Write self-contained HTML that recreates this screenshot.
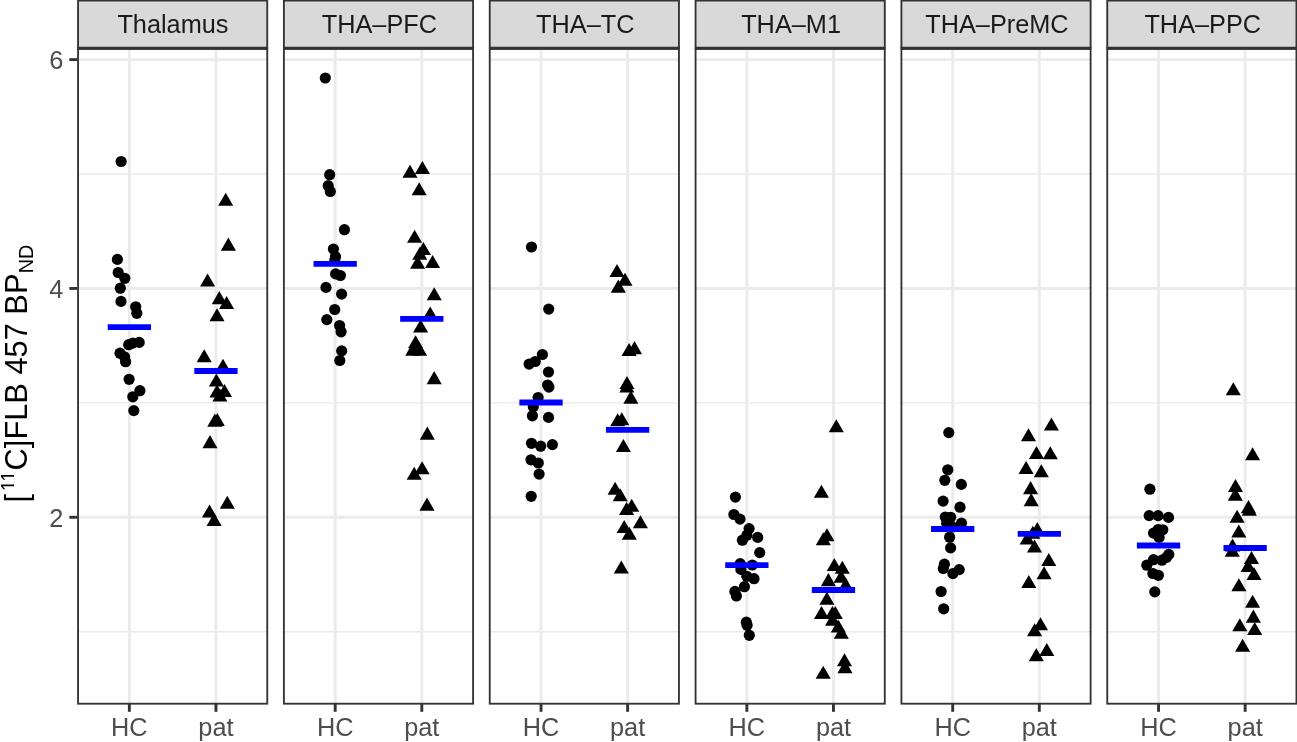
<!DOCTYPE html>
<html lang="en"><head><meta charset="utf-8"><title>[11C]FLB 457 BPND</title>
<style>
html,body{margin:0;padding:0;background:#fff;}
body{width:1297px;height:742px;overflow:hidden;}
svg{display:block;will-change:transform;}
text{font-family:"Liberation Sans",Arial,Helvetica,sans-serif;}
.st{font-size:25.3px;fill:#1a1a1a;text-anchor:middle;}
.ax{font-size:25.3px;fill:#4d4d4d;}
.yt{font-size:30.8px;fill:#000;}
</style></head><body>
<svg width="1297" height="742" viewBox="0 0 1297 742">
<rect width="1297" height="742" fill="#fff"/>
<text class="ax" x="63.3" y="526.68" text-anchor="end">2</text>
<line x1="69.3" x2="78.0" y1="517.28" y2="517.28" stroke="#333" stroke-width="2.9"/>
<text class="ax" x="63.3" y="297.84" text-anchor="end">4</text>
<line x1="69.3" x2="78.0" y1="288.44" y2="288.44" stroke="#333" stroke-width="2.9"/>
<text class="ax" x="63.3" y="69.00" text-anchor="end">6</text>
<line x1="69.3" x2="78.0" y1="59.60" y2="59.60" stroke="#333" stroke-width="2.9"/>
<g transform="translate(26.9,502.5) rotate(-90)">
<clipPath id="c11"><rect x="0" y="-40" width="40" height="27.15"/></clipPath>
<text class="yt" x="0" y="0">[</text>
<g clip-path="url(#c11)"><text class="yt" x="0" y="0" transform="translate(11.14,-12.7) scale(1,1.105) translate(0,1.45)" style="font-size:19.8px">11</text></g>
<text class="yt" x="32.1" y="0">C]FLB 457 BP<tspan style="font-size:19.8px" dx="0.2" dy="6.1">ND</tspan></text>
</g>
<g>
<rect x="77.40" y="-2" width="190.50" height="50.25" fill="#d9d9d9"/>
<path d="M78.05 48.25V0.5H267.25V48.25" fill="none" stroke="#333" stroke-width="1.85"/>
<text class="st" x="172.95" y="33.4">Thalamus</text>
<rect x="77.40" y="48.25" width="190.50" height="656.15" fill="#fff"/>
<line x1="77.40" x2="267.90" y1="631.70" y2="631.70" stroke="#ebebeb" stroke-width="1.45"/>
<line x1="77.40" x2="267.90" y1="402.86" y2="402.86" stroke="#ebebeb" stroke-width="1.45"/>
<line x1="77.40" x2="267.90" y1="174.02" y2="174.02" stroke="#ebebeb" stroke-width="1.45"/>
<line x1="77.40" x2="267.90" y1="517.28" y2="517.28" stroke="#ebebeb" stroke-width="2.9"/>
<line x1="77.40" x2="267.90" y1="288.44" y2="288.44" stroke="#ebebeb" stroke-width="2.9"/>
<line x1="77.40" x2="267.90" y1="59.60" y2="59.60" stroke="#ebebeb" stroke-width="2.9"/>
<line x1="129.35" x2="129.35" y1="48.25" y2="704.40" stroke="#ebebeb" stroke-width="2.9"/>
<line x1="215.95" x2="215.95" y1="48.25" y2="704.40" stroke="#ebebeb" stroke-width="2.9"/>
<circle cx="121.1" cy="161.5" r="5.6"/>
<circle cx="117.4" cy="259.4" r="5.6"/>
<circle cx="118.2" cy="272.5" r="5.6"/>
<circle cx="124.8" cy="278.3" r="5.6"/>
<circle cx="120.3" cy="288.2" r="5.6"/>
<circle cx="121.0" cy="301.4" r="5.6"/>
<circle cx="135.7" cy="306.8" r="5.6"/>
<circle cx="136.8" cy="313.3" r="5.6"/>
<circle cx="139.2" cy="342.4" r="5.6"/>
<circle cx="132.8" cy="343.1" r="5.6"/>
<circle cx="128.7" cy="344.7" r="5.6"/>
<circle cx="120.0" cy="353.2" r="5.6"/>
<circle cx="124.6" cy="356.9" r="5.6"/>
<circle cx="125.6" cy="361.7" r="5.6"/>
<circle cx="129.1" cy="379.3" r="5.6"/>
<circle cx="139.9" cy="390.7" r="5.6"/>
<circle cx="132.8" cy="396.8" r="5.6"/>
<circle cx="133.8" cy="410.6" r="5.6"/>
<path d="M225.7 192.8l7.55 13.05h-15.1z"/>
<path d="M228.4 237.6l7.55 13.05h-15.1z"/>
<path d="M207.6 273.5l7.55 13.05h-15.1z"/>
<path d="M219.3 291.1l7.55 13.05h-15.1z"/>
<path d="M226.6 295.9l7.55 13.05h-15.1z"/>
<path d="M217.0 308.3l7.55 13.05h-15.1z"/>
<path d="M204.2 349.2l7.55 13.05h-15.1z"/>
<path d="M223.0 358.8l7.55 13.05h-15.1z"/>
<path d="M216.4 373.5l7.55 13.05h-15.1z"/>
<path d="M224.5 384.0l7.55 13.05h-15.1z"/>
<path d="M217.0 384.5l7.55 13.05h-15.1z"/>
<path d="M219.9 388.5l7.55 13.05h-15.1z"/>
<path d="M214.8 413.6l7.55 13.05h-15.1z"/>
<path d="M217.3 413.0l7.55 13.05h-15.1z"/>
<path d="M210.0 435.1l7.55 13.05h-15.1z"/>
<path d="M227.3 495.8l7.55 13.05h-15.1z"/>
<path d="M209.5 504.5l7.55 13.05h-15.1z"/>
<path d="M214.1 513.0l7.55 13.05h-15.1z"/>
<line x1="107.70" x2="151.00" y1="327.10" y2="327.10" stroke="#0000ff" stroke-width="5.8"/>
<line x1="194.30" x2="237.60" y1="371.00" y2="371.00" stroke="#0000ff" stroke-width="5.8"/>
<rect x="78.05" y="48.75" width="189.20" height="654.95" fill="none" stroke="#333" stroke-width="1.85"/>
<line x1="77.40" x2="267.90" y1="48.25" y2="48.25" stroke="#333" stroke-width="2.9"/>
<line x1="129.35" x2="129.35" y1="703.60" y2="711.80" stroke="#333" stroke-width="2.9"/>
<text class="ax" x="129.35" y="735.8" text-anchor="middle">HC</text>
<line x1="215.95" x2="215.95" y1="703.60" y2="711.80" stroke="#333" stroke-width="2.9"/>
<text class="ax" x="215.95" y="735.8" text-anchor="middle">pat</text>
</g>
<g>
<rect x="283.24" y="-2" width="190.50" height="50.25" fill="#d9d9d9"/>
<path d="M283.89 48.25V0.5H473.09V48.25" fill="none" stroke="#333" stroke-width="1.85"/>
<text class="st" x="379.39" y="33.4">THA–PFC</text>
<rect x="283.24" y="48.25" width="190.50" height="656.15" fill="#fff"/>
<line x1="283.24" x2="473.74" y1="631.70" y2="631.70" stroke="#ebebeb" stroke-width="1.45"/>
<line x1="283.24" x2="473.74" y1="402.86" y2="402.86" stroke="#ebebeb" stroke-width="1.45"/>
<line x1="283.24" x2="473.74" y1="174.02" y2="174.02" stroke="#ebebeb" stroke-width="1.45"/>
<line x1="283.24" x2="473.74" y1="517.28" y2="517.28" stroke="#ebebeb" stroke-width="2.9"/>
<line x1="283.24" x2="473.74" y1="288.44" y2="288.44" stroke="#ebebeb" stroke-width="2.9"/>
<line x1="283.24" x2="473.74" y1="59.60" y2="59.60" stroke="#ebebeb" stroke-width="2.9"/>
<line x1="335.19" x2="335.19" y1="48.25" y2="704.40" stroke="#ebebeb" stroke-width="2.9"/>
<line x1="421.79" x2="421.79" y1="48.25" y2="704.40" stroke="#ebebeb" stroke-width="2.9"/>
<circle cx="325.3" cy="78.0" r="5.6"/>
<circle cx="329.7" cy="174.7" r="5.6"/>
<circle cx="328.2" cy="185.7" r="5.6"/>
<circle cx="330.3" cy="191.5" r="5.6"/>
<circle cx="344.4" cy="229.7" r="5.6"/>
<circle cx="333.4" cy="249.0" r="5.6"/>
<circle cx="335.5" cy="256.6" r="5.6"/>
<circle cx="334.8" cy="260.1" r="5.6"/>
<circle cx="335.6" cy="273.9" r="5.6"/>
<circle cx="340.4" cy="275.5" r="5.6"/>
<circle cx="326.0" cy="287.4" r="5.6"/>
<circle cx="341.6" cy="294.1" r="5.6"/>
<circle cx="334.7" cy="309.5" r="5.6"/>
<circle cx="326.8" cy="319.6" r="5.6"/>
<circle cx="339.6" cy="325.5" r="5.6"/>
<circle cx="341.1" cy="331.8" r="5.6"/>
<circle cx="341.7" cy="350.9" r="5.6"/>
<circle cx="339.8" cy="360.5" r="5.6"/>
<path d="M422.4 161.0l7.55 13.05h-15.1z"/>
<path d="M410.0 164.7l7.55 13.05h-15.1z"/>
<path d="M419.2 182.2l7.55 13.05h-15.1z"/>
<path d="M414.6 229.8l7.55 13.05h-15.1z"/>
<path d="M423.4 242.0l7.55 13.05h-15.1z"/>
<path d="M419.8 246.8l7.55 13.05h-15.1z"/>
<path d="M432.6 254.9l7.55 13.05h-15.1z"/>
<path d="M417.6 255.8l7.55 13.05h-15.1z"/>
<path d="M434.2 287.2l7.55 13.05h-15.1z"/>
<path d="M430.2 306.5l7.55 13.05h-15.1z"/>
<path d="M420.6 319.4l7.55 13.05h-15.1z"/>
<path d="M415.6 335.3l7.55 13.05h-15.1z"/>
<path d="M412.8 342.6l7.55 13.05h-15.1z"/>
<path d="M419.6 342.8l7.55 13.05h-15.1z"/>
<path d="M434.2 371.1l7.55 13.05h-15.1z"/>
<path d="M427.3 426.6l7.55 13.05h-15.1z"/>
<path d="M422.1 461.2l7.55 13.05h-15.1z"/>
<path d="M414.2 466.7l7.55 13.05h-15.1z"/>
<path d="M427.0 497.6l7.55 13.05h-15.1z"/>
<line x1="313.54" x2="356.84" y1="263.85" y2="263.85" stroke="#0000ff" stroke-width="5.8"/>
<line x1="400.14" x2="443.44" y1="318.80" y2="318.80" stroke="#0000ff" stroke-width="5.8"/>
<rect x="283.89" y="48.75" width="189.20" height="654.95" fill="none" stroke="#333" stroke-width="1.85"/>
<line x1="283.24" x2="473.74" y1="48.25" y2="48.25" stroke="#333" stroke-width="2.9"/>
<line x1="335.19" x2="335.19" y1="703.60" y2="711.80" stroke="#333" stroke-width="2.9"/>
<text class="ax" x="335.19" y="735.8" text-anchor="middle">HC</text>
<line x1="421.79" x2="421.79" y1="703.60" y2="711.80" stroke="#333" stroke-width="2.9"/>
<text class="ax" x="421.79" y="735.8" text-anchor="middle">pat</text>
</g>
<g>
<rect x="489.08" y="-2" width="190.50" height="50.25" fill="#d9d9d9"/>
<path d="M489.73 48.25V0.5H678.93V48.25" fill="none" stroke="#333" stroke-width="1.85"/>
<text class="st" x="585.23" y="33.4">THA–TC</text>
<rect x="489.08" y="48.25" width="190.50" height="656.15" fill="#fff"/>
<line x1="489.08" x2="679.58" y1="631.70" y2="631.70" stroke="#ebebeb" stroke-width="1.45"/>
<line x1="489.08" x2="679.58" y1="402.86" y2="402.86" stroke="#ebebeb" stroke-width="1.45"/>
<line x1="489.08" x2="679.58" y1="174.02" y2="174.02" stroke="#ebebeb" stroke-width="1.45"/>
<line x1="489.08" x2="679.58" y1="517.28" y2="517.28" stroke="#ebebeb" stroke-width="2.9"/>
<line x1="489.08" x2="679.58" y1="288.44" y2="288.44" stroke="#ebebeb" stroke-width="2.9"/>
<line x1="489.08" x2="679.58" y1="59.60" y2="59.60" stroke="#ebebeb" stroke-width="2.9"/>
<line x1="541.03" x2="541.03" y1="48.25" y2="704.40" stroke="#ebebeb" stroke-width="2.9"/>
<line x1="627.63" x2="627.63" y1="48.25" y2="704.40" stroke="#ebebeb" stroke-width="2.9"/>
<circle cx="531.5" cy="247.0" r="5.6"/>
<circle cx="548.7" cy="309.1" r="5.6"/>
<circle cx="542.4" cy="354.5" r="5.6"/>
<circle cx="535.2" cy="361.5" r="5.6"/>
<circle cx="529.1" cy="364.1" r="5.6"/>
<circle cx="548.5" cy="372.0" r="5.6"/>
<circle cx="547.6" cy="385.0" r="5.6"/>
<circle cx="548.9" cy="387.1" r="5.6"/>
<circle cx="538.1" cy="397.5" r="5.6"/>
<circle cx="533.3" cy="406.7" r="5.6"/>
<circle cx="532.4" cy="415.8" r="5.6"/>
<circle cx="548.5" cy="417.4" r="5.6"/>
<circle cx="531.5" cy="443.3" r="5.6"/>
<circle cx="540.7" cy="446.2" r="5.6"/>
<circle cx="552.4" cy="444.6" r="5.6"/>
<circle cx="531.0" cy="459.8" r="5.6"/>
<circle cx="538.3" cy="463.0" r="5.6"/>
<circle cx="539.1" cy="474.1" r="5.6"/>
<circle cx="531.2" cy="496.3" r="5.6"/>
<path d="M617.0 263.9l7.55 13.05h-15.1z"/>
<path d="M625.0 272.7l7.55 13.05h-15.1z"/>
<path d="M618.3 279.6l7.55 13.05h-15.1z"/>
<path d="M629.1 343.0l7.55 13.05h-15.1z"/>
<path d="M634.5 341.1l7.55 13.05h-15.1z"/>
<path d="M627.0 376.0l7.55 13.05h-15.1z"/>
<path d="M626.8 379.4l7.55 13.05h-15.1z"/>
<path d="M630.9 390.6l7.55 13.05h-15.1z"/>
<path d="M617.7 413.3l7.55 13.05h-15.1z"/>
<path d="M621.8 412.2l7.55 13.05h-15.1z"/>
<path d="M623.4 439.0l7.55 13.05h-15.1z"/>
<path d="M615.1 481.8l7.55 13.05h-15.1z"/>
<path d="M620.2 488.3l7.55 13.05h-15.1z"/>
<path d="M631.7 498.7l7.55 13.05h-15.1z"/>
<path d="M626.6 501.9l7.55 13.05h-15.1z"/>
<path d="M640.4 515.2l7.55 13.05h-15.1z"/>
<path d="M624.2 520.0l7.55 13.05h-15.1z"/>
<path d="M629.3 526.7l7.55 13.05h-15.1z"/>
<path d="M621.3 560.4l7.55 13.05h-15.1z"/>
<line x1="519.38" x2="562.68" y1="402.50" y2="402.50" stroke="#0000ff" stroke-width="5.8"/>
<line x1="605.98" x2="649.28" y1="429.80" y2="429.80" stroke="#0000ff" stroke-width="5.8"/>
<rect x="489.73" y="48.75" width="189.20" height="654.95" fill="none" stroke="#333" stroke-width="1.85"/>
<line x1="489.08" x2="679.58" y1="48.25" y2="48.25" stroke="#333" stroke-width="2.9"/>
<line x1="541.03" x2="541.03" y1="703.60" y2="711.80" stroke="#333" stroke-width="2.9"/>
<text class="ax" x="541.03" y="735.8" text-anchor="middle">HC</text>
<line x1="627.63" x2="627.63" y1="703.60" y2="711.80" stroke="#333" stroke-width="2.9"/>
<text class="ax" x="627.63" y="735.8" text-anchor="middle">pat</text>
</g>
<g>
<rect x="694.92" y="-2" width="190.50" height="50.25" fill="#d9d9d9"/>
<path d="M695.57 48.25V0.5H884.77V48.25" fill="none" stroke="#333" stroke-width="1.85"/>
<text class="st" x="791.07" y="33.4">THA–M1</text>
<rect x="694.92" y="48.25" width="190.50" height="656.15" fill="#fff"/>
<line x1="694.92" x2="885.42" y1="631.70" y2="631.70" stroke="#ebebeb" stroke-width="1.45"/>
<line x1="694.92" x2="885.42" y1="402.86" y2="402.86" stroke="#ebebeb" stroke-width="1.45"/>
<line x1="694.92" x2="885.42" y1="174.02" y2="174.02" stroke="#ebebeb" stroke-width="1.45"/>
<line x1="694.92" x2="885.42" y1="517.28" y2="517.28" stroke="#ebebeb" stroke-width="2.9"/>
<line x1="694.92" x2="885.42" y1="288.44" y2="288.44" stroke="#ebebeb" stroke-width="2.9"/>
<line x1="694.92" x2="885.42" y1="59.60" y2="59.60" stroke="#ebebeb" stroke-width="2.9"/>
<line x1="746.87" x2="746.87" y1="48.25" y2="704.40" stroke="#ebebeb" stroke-width="2.9"/>
<line x1="833.47" x2="833.47" y1="48.25" y2="704.40" stroke="#ebebeb" stroke-width="2.9"/>
<circle cx="735.4" cy="497.1" r="5.6"/>
<circle cx="733.9" cy="514.5" r="5.6"/>
<circle cx="740.0" cy="519.1" r="5.6"/>
<circle cx="749.1" cy="528.6" r="5.6"/>
<circle cx="746.9" cy="535.2" r="5.6"/>
<circle cx="757.7" cy="537.4" r="5.6"/>
<circle cx="742.4" cy="540.2" r="5.6"/>
<circle cx="759.7" cy="552.6" r="5.6"/>
<circle cx="740.2" cy="563.6" r="5.6"/>
<circle cx="752.3" cy="565.0" r="5.6"/>
<circle cx="740.9" cy="569.4" r="5.6"/>
<circle cx="746.8" cy="576.3" r="5.6"/>
<circle cx="754.0" cy="578.7" r="5.6"/>
<circle cx="744.4" cy="586.7" r="5.6"/>
<circle cx="734.9" cy="591.4" r="5.6"/>
<circle cx="736.4" cy="596.0" r="5.6"/>
<circle cx="746.3" cy="622.2" r="5.6"/>
<circle cx="747.1" cy="625.3" r="5.6"/>
<circle cx="749.3" cy="635.3" r="5.6"/>
<path d="M836.3 419.3l7.55 13.05h-15.1z"/>
<path d="M821.4 484.8l7.55 13.05h-15.1z"/>
<path d="M827.0 528.3l7.55 13.05h-15.1z"/>
<path d="M823.3 532.2l7.55 13.05h-15.1z"/>
<path d="M834.3 557.9l7.55 13.05h-15.1z"/>
<path d="M842.3 560.8l7.55 13.05h-15.1z"/>
<path d="M841.1 569.8l7.55 13.05h-15.1z"/>
<path d="M828.4 573.1l7.55 13.05h-15.1z"/>
<path d="M845.7 577.6l7.55 13.05h-15.1z"/>
<path d="M826.9 591.8l7.55 13.05h-15.1z"/>
<path d="M821.5 606.0l7.55 13.05h-15.1z"/>
<path d="M832.4 606.0l7.55 13.05h-15.1z"/>
<path d="M835.3 606.0l7.55 13.05h-15.1z"/>
<path d="M832.6 612.6l7.55 13.05h-15.1z"/>
<path d="M838.3 619.5l7.55 13.05h-15.1z"/>
<path d="M841.3 625.7l7.55 13.05h-15.1z"/>
<path d="M844.5 653.2l7.55 13.05h-15.1z"/>
<path d="M845.0 660.1l7.55 13.05h-15.1z"/>
<path d="M823.2 665.8l7.55 13.05h-15.1z"/>
<line x1="725.22" x2="768.52" y1="565.05" y2="565.05" stroke="#0000ff" stroke-width="5.8"/>
<line x1="811.82" x2="855.12" y1="590.00" y2="590.00" stroke="#0000ff" stroke-width="5.8"/>
<rect x="695.57" y="48.75" width="189.20" height="654.95" fill="none" stroke="#333" stroke-width="1.85"/>
<line x1="694.92" x2="885.42" y1="48.25" y2="48.25" stroke="#333" stroke-width="2.9"/>
<line x1="746.87" x2="746.87" y1="703.60" y2="711.80" stroke="#333" stroke-width="2.9"/>
<text class="ax" x="746.87" y="735.8" text-anchor="middle">HC</text>
<line x1="833.47" x2="833.47" y1="703.60" y2="711.80" stroke="#333" stroke-width="2.9"/>
<text class="ax" x="833.47" y="735.8" text-anchor="middle">pat</text>
</g>
<g>
<rect x="900.76" y="-2" width="190.50" height="50.25" fill="#d9d9d9"/>
<path d="M901.41 48.25V0.5H1090.61V48.25" fill="none" stroke="#333" stroke-width="1.85"/>
<text class="st" x="996.91" y="33.4">THA–PreMC</text>
<rect x="900.76" y="48.25" width="190.50" height="656.15" fill="#fff"/>
<line x1="900.76" x2="1091.26" y1="631.70" y2="631.70" stroke="#ebebeb" stroke-width="1.45"/>
<line x1="900.76" x2="1091.26" y1="402.86" y2="402.86" stroke="#ebebeb" stroke-width="1.45"/>
<line x1="900.76" x2="1091.26" y1="174.02" y2="174.02" stroke="#ebebeb" stroke-width="1.45"/>
<line x1="900.76" x2="1091.26" y1="517.28" y2="517.28" stroke="#ebebeb" stroke-width="2.9"/>
<line x1="900.76" x2="1091.26" y1="288.44" y2="288.44" stroke="#ebebeb" stroke-width="2.9"/>
<line x1="900.76" x2="1091.26" y1="59.60" y2="59.60" stroke="#ebebeb" stroke-width="2.9"/>
<line x1="952.71" x2="952.71" y1="48.25" y2="704.40" stroke="#ebebeb" stroke-width="2.9"/>
<line x1="1039.31" x2="1039.31" y1="48.25" y2="704.40" stroke="#ebebeb" stroke-width="2.9"/>
<circle cx="948.8" cy="432.6" r="5.6"/>
<circle cx="947.8" cy="469.8" r="5.6"/>
<circle cx="944.8" cy="480.3" r="5.6"/>
<circle cx="961.3" cy="484.4" r="5.6"/>
<circle cx="943.1" cy="501.1" r="5.6"/>
<circle cx="960.0" cy="507.2" r="5.6"/>
<circle cx="945.3" cy="517.0" r="5.6"/>
<circle cx="950.7" cy="517.3" r="5.6"/>
<circle cx="961.5" cy="523.2" r="5.6"/>
<circle cx="946.6" cy="523.2" r="5.6"/>
<circle cx="952.5" cy="527.0" r="5.6"/>
<circle cx="949.6" cy="537.2" r="5.6"/>
<circle cx="950.6" cy="547.9" r="5.6"/>
<circle cx="944.4" cy="564.2" r="5.6"/>
<circle cx="943.3" cy="568.5" r="5.6"/>
<circle cx="959.2" cy="569.6" r="5.6"/>
<circle cx="952.9" cy="573.6" r="5.6"/>
<circle cx="941.1" cy="591.5" r="5.6"/>
<circle cx="943.7" cy="608.8" r="5.6"/>
<path d="M1051.4 417.4l7.55 13.05h-15.1z"/>
<path d="M1028.5 428.2l7.55 13.05h-15.1z"/>
<path d="M1036.5 446.0l7.55 13.05h-15.1z"/>
<path d="M1050.3 446.3l7.55 13.05h-15.1z"/>
<path d="M1026.1 461.0l7.55 13.05h-15.1z"/>
<path d="M1041.3 464.2l7.55 13.05h-15.1z"/>
<path d="M1030.6 481.1l7.55 13.05h-15.1z"/>
<path d="M1031.2 493.1l7.55 13.05h-15.1z"/>
<path d="M1037.3 522.1l7.55 13.05h-15.1z"/>
<path d="M1032.8 525.8l7.55 13.05h-15.1z"/>
<path d="M1027.2 531.4l7.55 13.05h-15.1z"/>
<path d="M1034.5 539.5l7.55 13.05h-15.1z"/>
<path d="M1048.8 552.9l7.55 13.05h-15.1z"/>
<path d="M1044.1 566.3l7.55 13.05h-15.1z"/>
<path d="M1028.8 575.0l7.55 13.05h-15.1z"/>
<path d="M1040.5 617.2l7.55 13.05h-15.1z"/>
<path d="M1034.6 623.2l7.55 13.05h-15.1z"/>
<path d="M1046.8 643.0l7.55 13.05h-15.1z"/>
<path d="M1036.3 648.1l7.55 13.05h-15.1z"/>
<line x1="931.06" x2="974.36" y1="529.00" y2="529.00" stroke="#0000ff" stroke-width="5.8"/>
<line x1="1017.66" x2="1060.96" y1="533.90" y2="533.90" stroke="#0000ff" stroke-width="5.8"/>
<rect x="901.41" y="48.75" width="189.20" height="654.95" fill="none" stroke="#333" stroke-width="1.85"/>
<line x1="900.76" x2="1091.26" y1="48.25" y2="48.25" stroke="#333" stroke-width="2.9"/>
<line x1="952.71" x2="952.71" y1="703.60" y2="711.80" stroke="#333" stroke-width="2.9"/>
<text class="ax" x="952.71" y="735.8" text-anchor="middle">HC</text>
<line x1="1039.31" x2="1039.31" y1="703.60" y2="711.80" stroke="#333" stroke-width="2.9"/>
<text class="ax" x="1039.31" y="735.8" text-anchor="middle">pat</text>
</g>
<g>
<rect x="1106.60" y="-2" width="190.50" height="50.25" fill="#d9d9d9"/>
<path d="M1107.25 48.25V0.5H1296.45V48.25" fill="none" stroke="#333" stroke-width="1.85"/>
<text class="st" x="1202.75" y="33.4">THA–PPC</text>
<rect x="1106.60" y="48.25" width="190.50" height="656.15" fill="#fff"/>
<line x1="1106.60" x2="1297.10" y1="631.70" y2="631.70" stroke="#ebebeb" stroke-width="1.45"/>
<line x1="1106.60" x2="1297.10" y1="402.86" y2="402.86" stroke="#ebebeb" stroke-width="1.45"/>
<line x1="1106.60" x2="1297.10" y1="174.02" y2="174.02" stroke="#ebebeb" stroke-width="1.45"/>
<line x1="1106.60" x2="1297.10" y1="517.28" y2="517.28" stroke="#ebebeb" stroke-width="2.9"/>
<line x1="1106.60" x2="1297.10" y1="288.44" y2="288.44" stroke="#ebebeb" stroke-width="2.9"/>
<line x1="1106.60" x2="1297.10" y1="59.60" y2="59.60" stroke="#ebebeb" stroke-width="2.9"/>
<line x1="1158.55" x2="1158.55" y1="48.25" y2="704.40" stroke="#ebebeb" stroke-width="2.9"/>
<line x1="1245.15" x2="1245.15" y1="48.25" y2="704.40" stroke="#ebebeb" stroke-width="2.9"/>
<circle cx="1149.9" cy="489.2" r="5.6"/>
<circle cx="1149.2" cy="515.6" r="5.6"/>
<circle cx="1158.1" cy="515.6" r="5.6"/>
<circle cx="1168.5" cy="517.4" r="5.6"/>
<circle cx="1153.5" cy="533.1" r="5.6"/>
<circle cx="1158.1" cy="529.5" r="5.6"/>
<circle cx="1162.8" cy="529.8" r="5.6"/>
<circle cx="1159.1" cy="537.4" r="5.6"/>
<circle cx="1168.8" cy="554.4" r="5.6"/>
<circle cx="1166.6" cy="557.3" r="5.6"/>
<circle cx="1162.0" cy="560.2" r="5.6"/>
<circle cx="1153.5" cy="559.7" r="5.6"/>
<circle cx="1146.8" cy="565.2" r="5.6"/>
<circle cx="1152.9" cy="573.5" r="5.6"/>
<circle cx="1158.4" cy="575.3" r="5.6"/>
<circle cx="1154.8" cy="591.9" r="5.6"/>
<path d="M1233.3 382.2l7.55 13.05h-15.1z"/>
<path d="M1252.6 447.2l7.55 13.05h-15.1z"/>
<path d="M1235.5 478.9l7.55 13.05h-15.1z"/>
<path d="M1235.3 487.6l7.55 13.05h-15.1z"/>
<path d="M1248.5 500.1l7.55 13.05h-15.1z"/>
<path d="M1249.3 502.7l7.55 13.05h-15.1z"/>
<path d="M1237.1 509.7l7.55 13.05h-15.1z"/>
<path d="M1238.8 524.4l7.55 13.05h-15.1z"/>
<path d="M1232.5 538.5l7.55 13.05h-15.1z"/>
<path d="M1232.3 543.6l7.55 13.05h-15.1z"/>
<path d="M1251.5 551.0l7.55 13.05h-15.1z"/>
<path d="M1248.1 559.0l7.55 13.05h-15.1z"/>
<path d="M1254.0 567.0l7.55 13.05h-15.1z"/>
<path d="M1238.9 578.2l7.55 13.05h-15.1z"/>
<path d="M1252.6 594.8l7.55 13.05h-15.1z"/>
<path d="M1253.4 609.6l7.55 13.05h-15.1z"/>
<path d="M1239.8 618.2l7.55 13.05h-15.1z"/>
<path d="M1254.7 621.9l7.55 13.05h-15.1z"/>
<path d="M1242.6 638.8l7.55 13.05h-15.1z"/>
<line x1="1136.90" x2="1180.20" y1="545.50" y2="545.50" stroke="#0000ff" stroke-width="5.8"/>
<line x1="1223.50" x2="1266.80" y1="548.00" y2="548.00" stroke="#0000ff" stroke-width="5.8"/>
<rect x="1107.25" y="48.75" width="189.20" height="654.95" fill="none" stroke="#333" stroke-width="1.85"/>
<line x1="1106.60" x2="1297.10" y1="48.25" y2="48.25" stroke="#333" stroke-width="2.9"/>
<line x1="1158.55" x2="1158.55" y1="703.60" y2="711.80" stroke="#333" stroke-width="2.9"/>
<text class="ax" x="1158.55" y="735.8" text-anchor="middle">HC</text>
<line x1="1245.15" x2="1245.15" y1="703.60" y2="711.80" stroke="#333" stroke-width="2.9"/>
<text class="ax" x="1245.15" y="735.8" text-anchor="middle">pat</text>
</g>
</svg>
</body></html>
